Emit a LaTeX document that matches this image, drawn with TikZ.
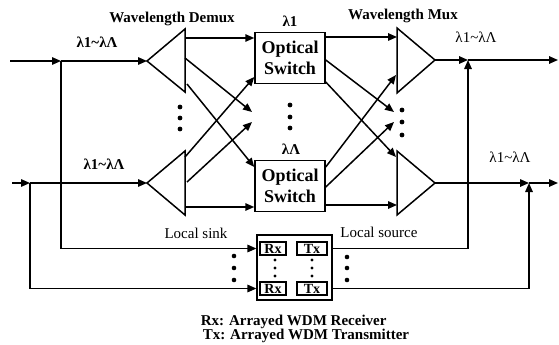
\documentclass[tikz,border=0pt]{standalone}
\usepackage{fontspec}
\setmainfont{Liberation Serif}
\usetikzlibrary{arrows.meta}
\begin{document}
\begin{tikzpicture}[x=1pt,y=-1pt,line width=1.5pt,line join=miter,
  arr/.style={-{Triangle[length=9pt,width=7.5pt]}},
  sw/.style={draw,minimum width=70pt,minimum height=51pt,inner sep=0pt,align=center,
    font=\bfseries\fontsize{18}{21}\selectfont},
  tb/.style={font=\bfseries\fontsize{15}{17}\selectfont,inner sep=0pt},
  tr/.style={font=\fontsize{15}{17}\selectfont,inner sep=0pt},
  rt/.style={draw,line width=1.1pt,inner sep=0pt,minimum height=13pt,
    font=\bfseries\fontsize{14}{14}\selectfont},
  bankbox/.style={draw,line width=1.2pt,minimum width=75pt,minimum height=65pt,inner sep=0pt}]
\useasboundingbox (0,0) rectangle (559,345);

% ---------- coordinates ----------
\coordinate (inA) at (10,61);
\coordinate (jA) at (61,61);
\coordinate (inB) at (12,183);
\coordinate (jB) at (30,183);
% demux triangles
\coordinate (d1t) at (147,61);
\coordinate (d1a) at (185,29);
\coordinate (d1b) at (185,92);
\coordinate (d2t) at (147,183);
\coordinate (d2a) at (185,151);
\coordinate (d2b) at (185,215);
% mux triangles
\coordinate (m1a) at (397,28);
\coordinate (m1b) at (397,93);
\coordinate (m1t) at (435,60);
\coordinate (m2a) at (397,151);
\coordinate (m2b) at (397,215);
\coordinate (m2t) at (435,183);
% demux outputs
\coordinate (d1o1) at (185,38);
\coordinate (d1o2) at (185,58);
\coordinate (d1o3) at (187,84);
\coordinate (d2o1) at (185,157);
\coordinate (d2o2) at (187,182);
\coordinate (d2o3) at (185,207);
\coordinate (sA) at (252,112);
\coordinate (sB) at (252,122);
% mux inputs
\coordinate (m1i1) at (397,37);
\coordinate (m1i2) at (396,75);
\coordinate (mC) at (394,112);
\coordinate (mD) at (394,122);
\coordinate (m2i1) at (396,157);
\coordinate (m2i2) at (397,205);
% right side
\coordinate (jC) at (468,60);
\coordinate (outA) at (558,60);
\coordinate (jD) at (529,183);
\coordinate (outB) at (558,183);

% ---------- shapes ----------
\draw (d1t) -- (d1a) -- (d1b) -- cycle;
\draw (d2t) -- (d2a) -- (d2b) -- cycle;
\draw (m1a) -- (m1t) -- (m1b) -- cycle;
\draw (m2a) -- (m2t) -- (m2b) -- cycle;

\node[sw] (s1) at (290,58) {Optical\\Switch};
\node[sw] (s2) at (290,186) {Optical\\Switch};

\path (s1.west) ++(0,19) coordinate (s1in);
\path (s2.west) ++(0,-19) coordinate (s2in);
\path (s1.east) ++(0,-21) coordinate (s1o1);
\path (s1.east) ++(0,2) coordinate (s1o2);
\path (s1.east) ++(0,24) coordinate (s1o3);
\path (s2.east) ++(0,-19) coordinate (s2o1);
\path (s2.east) ++(0,1) coordinate (s2o2);
\path (s2.east) ++(0,19) coordinate (s2o3);

\node[bankbox] (bank) at (294.5,267.5) {};
\node[rt,minimum width=26pt] (rx1) at (273,248.5) {Rx};
\node[rt,minimum width=30pt] (tx1) at (312,248.5) {Tx};
\node[rt,minimum width=26pt] (rx2) at (273,288.5) {Rx};
\node[rt,minimum width=30pt] (tx2) at (312,288.5) {Tx};

% ---------- connectors ----------
\draw[arr] (inA) -- (jA);
\draw[arr] (jA) -- (d1t);
\draw[arr] (jA) |- (bank.west |- rx1);
\draw[arr] (inB) -- (jB);
\draw[arr] (jB) -- (d2t);
\draw[arr] (jB) |- (bank.west |- rx2);

\draw[arr] (d1o1) -- (s1.west |- d1o1);
\draw[arr] (d1o2) -- (sA);
\draw[arr] (d1o3) -- (s2in);
\draw[arr] (d2o1) -- (s1in);
\draw[arr] (d2o2) -- (sB);
\draw[arr] (d2o3) -- (s2.west |- d2o3);

\draw[arr] (s1o1) -- (m1i1);
\draw[arr] (s1o2) -- (mC);
\draw[arr] (s1o3) -- (m2i1);
\draw[arr] (s2o1) -- (m1i2);
\draw[arr] (s2o2) -- (mD);
\draw[arr] (s2o3) -- (m2i2);

\draw[arr] (m1t) -- (jC);
\draw[arr] (jC) -- (outA);
\draw[arr] (bank.east |- tx1) -| (jC);
\draw[arr] (m2t) -- (jD);
\draw[arr] (jD) -- (outB);
\draw[arr] (bank.east |- tx2) -| (jD);

% ---------- dots ----------
\foreach \y in {107,118,129} \fill (180,\y) circle (2.4pt);
\foreach \y in {105,117,128} \fill (290,\y) circle (2.4pt);
\foreach \y in {110,122,135} \fill (402,\y) circle (2.4pt);
\foreach \y in {256,268,280} \fill (234,\y) circle (2.3pt);
\foreach \y in {257,268,280} \fill (347,\y) circle (2.3pt);
\foreach \y in {260,268,276} {\fill (275,\y) circle (1.6pt); \fill (312,\y) circle (1.6pt);}

% ---------- labels ----------
\node[tb] (lDemux) at (172,19) {Wavelength Demux};
\node[tb] (lMux) at (403,16) {Wavelength Mux};
\node[tb] (l1) at (290,21) {λ1};
\node[tb] (lL) at (291,149) {λΛ};
\node[tb] (inAl) at (97,42) {λ1\textasciitilde λΛ};
\node[tb] (inBl) at (104,164) {λ1\textasciitilde λΛ};
\node[tr] (outAl) at (476,37) {λ1\textasciitilde λΛ};
\node[tr] (outBl) at (510,157) {λ1\textasciitilde λΛ};
\node[tr] (sinkl) at (196,233) {Local sink};
\node[tr] (srcl) at (379,232) {Local source};
\node[tb,anchor=west] (leg1) at (200,322) {Rx: Arrayed WDM Receiver};
\node[tb,anchor=west] (leg2) at (202,336) {Tx: Arrayed WDM Transmitter};
\end{tikzpicture}
\end{document}
